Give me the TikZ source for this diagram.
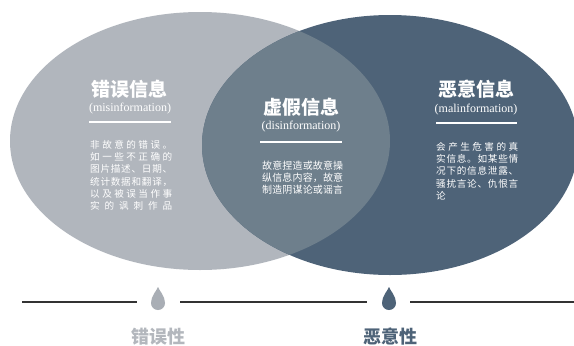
\documentclass[tikz,border=0pt]{standalone}
\usepackage{fontspec}
\setmainfont{Liberation Serif}
\newfontfamily\cjk{Noto Sans CJK SC}
\definecolor{cL}{HTML}{B1B6BD}
\definecolor{cM}{HTML}{6E7F8C}
\definecolor{cR}{HTML}{4E6378}
\definecolor{dropG}{HTML}{A9AEB5}
\definecolor{labG}{HTML}{B3B7BD}
\definecolor{lineK}{HTML}{333333}
\makeatletter
\def\spreadchars#1{\spread@a#1\spread@end}
\def\spread@a#1#2\spread@end{#1\ifx\relax#2\relax\else\hfill\spread@a#2\spread@end\fi}
\makeatother
\newcommand\jline[2]{\hbox to #1{\spreadchars{#2}}}
\tikzset{
  titletxt/.style={font=\cjk\bfseries\fontsize{19}{19}\selectfont, text=white, inner sep=0pt},
  engtxt/.style={font=\fontsize{12}{12}\selectfont, text=white, inner sep=0pt},
  bodytxt/.style={font=\cjk\fontsize{9.6}{12.3}\selectfont, text=white, align=left, inner sep=0pt, anchor=north west},
  rule/.style={white, line width=1.8pt},
  baseline/.style={lineK, line width=1.3pt},
  labtxt/.style={font=\cjk\bfseries\fontsize{18}{18}\selectfont, inner sep=0pt},
  droplet/.pic={\fill[pic actions] (0,-16) .. controls (1.5,-12) and (7,-7) .. (7,0) .. controls (7,3.9) and (3.9,7) .. (0,7) .. controls (-3.9,7) and (-7,3.9) .. (-7,0) .. controls (-7,-7) and (-1.5,-12) .. cycle;}
}
\begin{document}
\begin{tikzpicture}[x=1pt,y=-1pt]
\useasboundingbox (0,0) rectangle (574,346);
\fill[white] (0,0) rectangle (574,346);
% ellipses
\fill[cL] (200,141) ellipse [x radius=190pt, y radius=129pt];
\fill[cR] (390,145) ellipse [x radius=188pt, y radius=130pt];
\begin{scope}
  \clip (200,141) ellipse [x radius=190pt, y radius=129pt];
  \fill[cM] (390,145) ellipse [x radius=188pt, y radius=130pt];
\end{scope}
% left
\node[titletxt] (t1) at (130,89) {错误信息};
\node[engtxt] (e1) at (130,109) {(misinformation)};
\coordinate (u1a) at (89,122); \coordinate (u1b) at (171,122);
\draw[rule] (u1a) -- (u1b);
\node[bodytxt] (b1) at (90,140) {\jline{82pt}{非故意的错误。}\\\jline{82pt}{如一些不正确的}\\\jline{82pt}{图片描述、日期、}\\\jline{82pt}{统计数据和翻译，}\\\jline{82pt}{以及被误当作事}\\\jline{82pt}{实的讽刺作品}};
% middle
\node[titletxt] (t2) at (301,107) {虚假信息};
\node[engtxt] (e2) at (301,127) {(disinformation)};
\coordinate (u2a) at (260,142); \coordinate (u2b) at (342,142);
\draw[rule] (u2a) -- (u2b);
\node[bodytxt, font=\cjk\fontsize{10}{11.7}\selectfont] (b2) at (262,161) {\jline{81pt}{故意捏造或故意操}\\\jline{81pt}{纵信息内容，故意}\\\jline{81pt}{制造阴谋论或谣言}};
% right
\node[titletxt] (t3) at (476,89) {恶意信息};
\node[engtxt] (e3) at (476,110) {(malinformation)};
\coordinate (u3a) at (436,123); \coordinate (u3b) at (517,123);
\draw[rule] (u3a) -- (u3b);
\node[bodytxt] (b3) at (436,142) {\jline{82pt}{会产生危害的真}\\\jline{82pt}{实信息。如某些情}\\\jline{82pt}{况下的信息泄露、}\\\jline{82pt}{骚扰言论、仇恨言}\\论};
% bottom scale
\coordinate (h0) at (22,302); \coordinate (h1) at (137,302);
\coordinate (h2) at (180,302); \coordinate (h3) at (367,302);
\coordinate (h4) at (410,302); \coordinate (h5) at (574,302);
\draw[baseline] (h0) -- (h1);
\draw[baseline] (h2) -- (h3);
\draw[baseline] (h4) -- (h5);
\coordinate (dL) at (158,303);
\coordinate (dR) at (389,303);
\pic[fill=dropG] at (dL) {droplet};
\pic[fill=cR] at (dR) {droplet};
\node[labtxt, text=labG] (k1) at (158,337) {错误性};
\node[labtxt, text=cR] (k2) at (390,337) {恶意性};
\end{tikzpicture}
\end{document}
